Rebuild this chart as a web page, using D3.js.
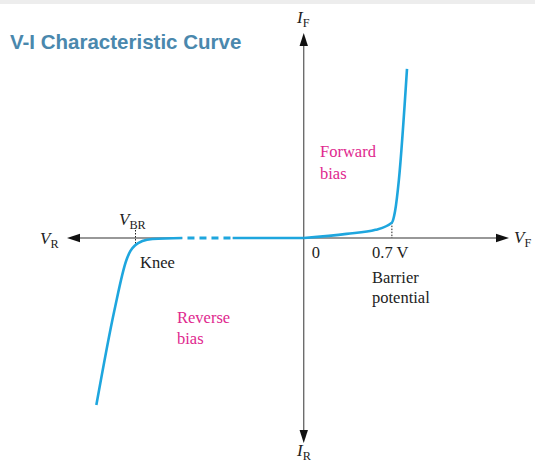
<!DOCTYPE html>
<html>
<head>
<meta charset="utf-8">
<script src="https://cdn.jsdelivr.net/npm/d3@7"></script>
<style>
  body { margin: 0; background: #fff; }
  .serif { font-family: "Liberation Serif", "DejaVu Serif", serif; }
</style>
</head>
<body>
<div id="wrapper"></div>
<script>
// DATA (arbitrary units: V along x, I along y)
const forwardV = [0, 0.34, 0.57, 0.70, 0.725, 0.755, 0.82]
const forwardI = [0, 0.2, 0.4, 0.75, 1.3, 2.8, 8.25]

// flat reverse leakage, near zero current
const leakageV = [0, -0.565]
const leakageI = [0, 0]
const leakageGapV = [-0.565, -0.963]
const leakageGapI = [0, 0]

// breakdown region past the knee
const breakdownV = [-0.963, -1.201, -1.281, -1.336, -1.376, -1.408, -1.503, -1.647]
const breakdownI = [0, -0.05, -0.15, -0.34, -0.63, -1.07, -3.51, -8.15]

const barrierV = 0.7
const kneeV = -1.336
const kneeI = -0.34

const tickLabels = ["0", "0.7 V"]

// DIMENSIONS
const dimensions = { width: 535, height: 465 }

// SCALES
const xScale = d3.scaleLinear().domain([-1.88, 1.63]).range([67, 509])
const yScale = d3.scaleLinear().domain([-10, 10]).range([443, 33])

const zip = (a, b) => a.map((v, i) => [v, b[i]])

const lineGenerator = d3.line()
  .x(d => xScale(d[0]))
  .y(d => yScale(d[1]))
  .curve(d3.curveMonotoneX)

// DRAW CANVAS
const wrapper = d3.select("#wrapper")
  .append("svg")
  .attr("width", dimensions.width)
  .attr("height", dimensions.height)

wrapper.append("rect")
  .attr("width", dimensions.width)
  .attr("height", 4)
  .attr("fill", "#ededed")

// title
wrapper.append("text")
  .attr("x", 10)
  .attr("y", 49)
  .style("font-family", "'Liberation Sans', Arial, sans-serif")
  .style("font-weight", "bold")
  .style("font-size", "20.5px")
  .attr("fill", "#4a88ad")
  .text("V-I Characteristic Curve")

// AXES with arrowheads
const axisColor = "#333"
const x0 = xScale(0), y0 = yScale(0)
const [xLeft, xRight] = xScale.range()
const [yBottom, yTop] = yScale.range()

wrapper.append("line")
  .attr("x1", xLeft + 8).attr("x2", xRight - 8)
  .attr("y1", y0).attr("y2", y0)
  .attr("stroke", axisColor).attr("stroke-width", 1.2)

wrapper.append("line")
  .attr("x1", x0).attr("x2", x0)
  .attr("y1", yTop + 8).attr("y2", yBottom - 8)
  .attr("stroke", "#555").attr("stroke-width", 1.2)

const arrowLen = 13, arrowHalf = 4.2
const arrows = [
  [[xRight, y0], [xRight - arrowLen, y0 - arrowHalf], [xRight - arrowLen, y0 + arrowHalf]],
  [[xLeft, y0], [xLeft + arrowLen, y0 - arrowHalf], [xLeft + arrowLen, y0 + arrowHalf]],
  [[x0, yTop], [x0 - arrowHalf, yTop + arrowLen], [x0 + arrowHalf, yTop + arrowLen]],
  [[x0, yBottom], [x0 - arrowHalf, yBottom - arrowLen], [x0 + arrowHalf, yBottom - arrowLen]]
]
wrapper.selectAll(".arrow")
  .data(arrows)
  .join("path")
  .attr("class", "arrow")
  .attr("d", d => "M" + d.join("L") + "Z")
  .attr("fill", "#111")

// dotted guides
wrapper.append("line")
  .attr("x1", xScale(barrierV)).attr("x2", xScale(barrierV))
  .attr("y1", yScale(0.75)).attr("y2", y0)
  .attr("stroke", "#222").attr("stroke-width", 1)
  .attr("stroke-dasharray", "1.5,1.5")

wrapper.append("line")
  .attr("x1", xScale(kneeV)).attr("x2", xScale(kneeV))
  .attr("y1", y0 - 8).attr("y2", yScale(kneeI))
  .attr("stroke", "#222").attr("stroke-width", 1)
  .attr("stroke-dasharray", "1.5,1.5")

// CURVE
const curveColor = "#1ea6de"
const curveWidth = 2.6

const curves = [forwardV, leakageV, breakdownV].map((v, i) =>
  zip(v, [forwardI, leakageI, breakdownI][i]))

wrapper.selectAll(".curve")
  .data(curves)
  .join("path")
  .attr("class", "curve")
  .attr("d", lineGenerator)
  .attr("fill", "none")
  .attr("stroke", curveColor)
  .attr("stroke-width", curveWidth)

// white underlay hides the axis between the dashes
const gapPath = lineGenerator(zip(leakageGapV, leakageGapI).reverse())
wrapper.append("path")
  .attr("d", gapPath)
  .attr("fill", "none")
  .attr("stroke", "#fff")
  .attr("stroke-width", 3)

wrapper.append("path")
  .attr("d", gapPath)
  .attr("fill", "none")
  .attr("stroke", curveColor)
  .attr("stroke-width", curveWidth + 0.4)
  .attr("stroke-dasharray", "7,5")
  .attr("stroke-dashoffset", 7)

// LABELS
const addSubLabel = (x, y, main, sub, size) => {
  const t = wrapper.append("text")
    .attr("class", "serif")
    .attr("x", x).attr("y", y)
    .attr("fill", "#222")
    .style("font-size", size + "px")
  t.append("tspan").style("font-style", "italic").text(main)
  t.append("tspan").attr("dy", 4).style("font-size", (size * 0.72) + "px").text(sub)
}
addSubLabel(297, 23, "I", "F", 17)
addSubLabel(297, 456, "I", "R", 17)
addSubLabel(40, 244, "V", "R", 17)
addSubLabel(514, 243, "V", "F", 17)
addSubLabel(119, 225, "V", "BR", 17)

const blackLabels = [
  { text: tickLabels[0], x: x0 + 8, y: 258 },
  { text: tickLabels[1], x: 372, y: 258 },
  { text: "Barrier", x: 372, y: 283 },
  { text: "potential", x: 372, y: 303 },
  { text: "Knee", x: 140, y: 268 }
]
wrapper.selectAll(".lbl")
  .data(blackLabels)
  .join("text")
  .attr("class", "serif lbl")
  .attr("x", d => d.x).attr("y", d => d.y)
  .attr("fill", "#222")
  .style("font-size", "16.5px")
  .text(d => d.text)

const pinkLabels = [
  { text: "Forward", x: 320, y: 157 },
  { text: "bias", x: 320, y: 179 },
  { text: "Reverse", x: 177, y: 323 },
  { text: "bias", x: 177, y: 344 }
]
wrapper.selectAll(".pink")
  .data(pinkLabels)
  .join("text")
  .attr("class", "serif pink")
  .attr("x", d => d.x).attr("y", d => d.y)
  .attr("fill", "#e0288e")
  .style("font-size", "16.5px")
  .text(d => d.text)
</script>
</body>
</html>
